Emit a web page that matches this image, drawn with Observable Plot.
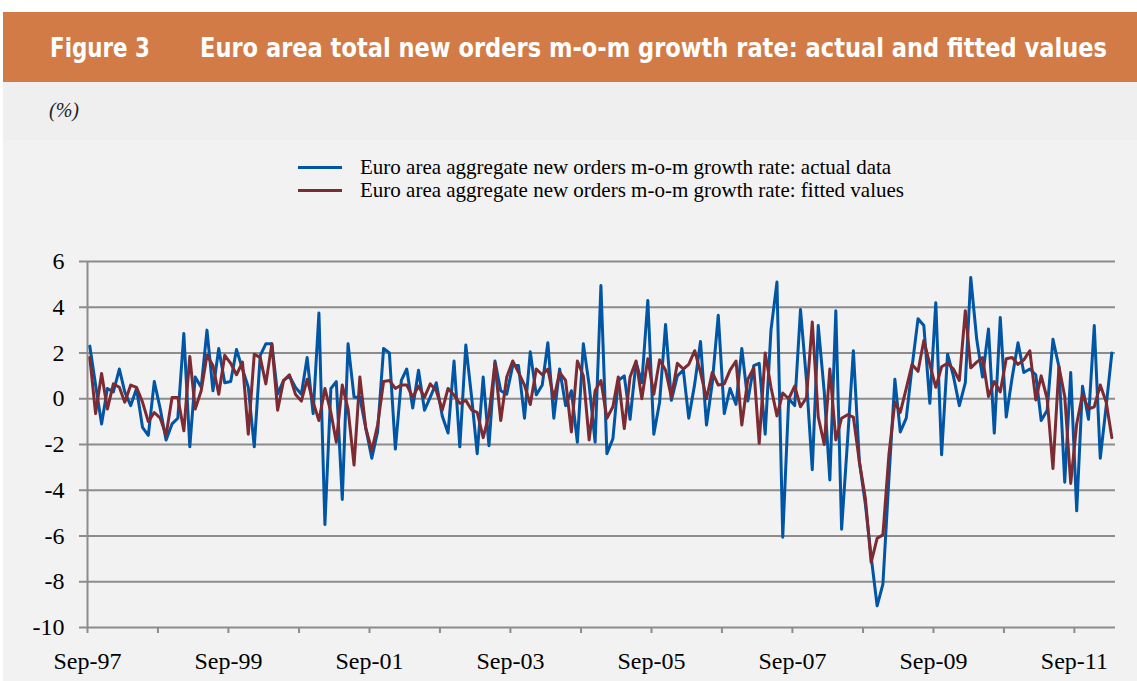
<!DOCTYPE html>
<html>
<head>
<meta charset="utf-8">
<script src="https://cdn.jsdelivr.net/npm/d3@7"></script>
<script src="https://cdn.jsdelivr.net/npm/@observablehq/plot@0.6"></script>
<style>
  html, body { margin: 0; padding: 0; background: #ffffff; }
  #page { position: relative; width: 1137px; height: 681px; overflow: hidden; background: #ffffff; }
  #header { position: absolute; left: 3px; top: 12px; width: 1134px; height: 70px; background: #D27B46; }
  #panelTop { position: absolute; left: 3px; top: 82px; width: 1134px; height: 58px; background: #EFEFEF; }
  #panel { position: absolute; left: 3px; top: 140px; width: 1134px; height: 541px; background: #F2F2F2; }
  #unit { position: absolute; left: 49px; top: 99px; font-family: 'Liberation Serif', 'Times New Roman', serif; font-style: italic; font-size: 20px; color: #222; }
  #legend { position: absolute; left: 298px; top: 156px; font-family: 'Liberation Serif', 'Times New Roman', serif; font-size: 21px; color: #000; }
  .row { display: flex; align-items: center; height: 23px; }
  .sw { width: 44px; height: 3px; margin-right: 18px; }
  #chart { position: absolute; left: 0; top: 240px; }
</style>
</head>
<body>
<div id="page">
  <div id="header">
    <svg width="1134" height="70" style="display:block">
      <g font-family="'DejaVu Sans', 'Open Sans', sans-serif" font-weight="bold" font-size="20" fill="#ffffff">
        <text transform="translate(47,45) scale(1,1.3)" textLength="100" lengthAdjust="spacingAndGlyphs">Figure 3</text>
        <text transform="translate(197,45) scale(1,1.3)" textLength="907" lengthAdjust="spacingAndGlyphs">Euro area total new orders m-o-m growth rate: actual and fitted values</text>
      </g>
    </svg>
  </div>
  <div id="panelTop"></div>
  <div id="panel"></div>
  <div id="unit">(%)</div>
  <div id="legend"></div>
  <div id="chart"></div>
</div>
<script>
// ---- data (monthly, Sep-97 onwards) ----
const seriesNames = [
  "Euro area aggregate new orders m-o-m growth rate: actual data",
  "Euro area aggregate new orders m-o-m growth rate: fitted values"
];
const seriesColors = ["#0055A4", "#7D2B33"];
const startYear = 1997, startMonth = 8; // September 1997

const actual = [
  2.3, 0.6, -1.1, 0.45, 0.3, 1.3, 0.3, -0.3, 0.45, -1.25,
  -1.6, 0.75, -0.45, -1.8, -1.1, -0.85, 2.85, -2.1, 0.95, 0.5,
  3.0, 0.35, 2.2, 0.7, 0.75, 2.15, 1.3, 0.5, -2.1, 1.9,
  2.4, 2.4, 0.2, 0.8, 1.0, 0.5, 0.2, 1.8, -0.65, 3.75,
  -5.5, 0.45, 0.75, -4.4, 2.4, 0.07, 0.07, -1.3, -2.6, -1.45,
  2.2, 2.0, -2.2, 0.8, 1.3, -0.4, 1.25, -0.5, 0.07, 0.7,
  -0.75, -1.5, 1.65, -2.1, 2.35, 0.0, -2.4, 0.95, -2.05, 1.65,
  0.35, 0.2, 1.45, 1.45, -0.85, 2.05, 0.17, 0.6, 2.45, -0.85,
  1.3, -0.3, 0.35, -1.9, 2.4, 0.6, -1.9, 4.95, -2.4, -1.75,
  0.8, 1.0, -0.9, 1.6, 0.7, 4.3, -1.55, -0.15, 3.25, -0.07,
  1.0, 1.25, -0.85, 0.65, 2.5, -1.15, 0.7, 3.65, -0.65, 0.45,
  -0.25, 2.2, -0.1, 1.45, 1.55, -1.55, 3.0, 5.1, -6.05, 0.0,
  -0.3, 3.9, 0.8, -3.1, 3.2, 0.3, -3.55, 3.85, -5.7, -1.8,
  2.1, -2.75, -4.6, -6.9, -9.05, -8.1, -3.5, 0.85, -1.45, -0.85,
  1.4, 3.5, 3.2, -0.2, 4.2, -2.45, 1.95, 1.0, -0.3, 0.7,
  5.3, 2.6, 0.95, 3.05, -1.5, 3.55, -0.8, 0.9, 2.45, 1.15,
  1.3, 1.05, -0.95, -0.5, 2.6, 1.4, -3.65, 1.15, -4.9, 0.55,
  -0.9, 3.2, -2.6, -0.3, 2.0
];
const fitted = [
  1.8, -0.65, 1.1, -0.45, 0.65, 0.5, -0.15, 0.6, 0.5, -0.15,
  -1.0, -0.6, -0.85, -1.6, 0.05, 0.05, -1.4, 1.85, -0.45, 0.35,
  1.9, 1.45, 0.2, 1.9, 1.55, 1.05, 1.6, -1.55, 1.95, 1.8,
  0.65, 2.4, -0.5, 0.8, 1.05, 0.2, -0.1, 0.85, -0.15, -0.95,
  0.45, -0.6, -1.9, 0.6, -0.45, -2.9, 0.95, -1.3, -2.25, -1.15,
  0.75, 0.8, 0.45, 0.6, 0.6, 0.07, 0.55, 0.07, 0.65, 0.35,
  -0.5, 0.45, 0.15, -0.2, -0.07, -0.5, -0.6, -1.7, -0.7, 1.55,
  -0.95, 0.95, 1.65, 1.15, 0.6, -0.25, 1.3, 1.05, 1.3, 0.0,
  1.15, 0.8, -1.45, 1.65, 1.0, -1.8, 0.35, 0.8, -0.85, -0.35,
  0.95, -1.3, 0.95, 1.65, 0.0, 1.75, 0.2, 1.7, 1.25, 0.07,
  1.55, 1.3, 1.5, 2.1, 1.15, 0.0, 1.15, 0.6, 0.65, 1.25,
  1.65, -1.15, 0.85, 1.35, -1.95, 2.0, 0.5, -0.75, 0.25, 0.0,
  0.55, -0.35, 0.05, 3.35, -0.8, -2.0, 1.3, -1.8, -0.85, -0.7,
  -0.8, -2.75, -4.35, -7.15, -6.1, -5.95, -2.45, -0.15, -0.6, 0.45,
  1.5, 1.2, 2.55, 1.5, 0.5, 1.4, 1.55, 1.3, 0.8, 3.85,
  1.35, 1.6, 1.8, 0.1, 0.75, 0.3, 1.75, 1.8, 1.5, 1.7,
  2.1, -0.05, 1.0, 0.0, -3.05, 1.4, 0.1, -3.7, -1.1, 0.2,
  -0.45, -0.35, 0.6, -0.15, -1.7
];

const yTicks = [-10, -8, -6, -4, -2, 0, 2, 4, 6];
const tickYears = [1997, 1998, 1999, 2000, 2001, 2002, 2003, 2004, 2005, 2006, 2007, 2008, 2009, 2010, 2011];
const tickLabels = ["Sep-97", "Sep-99", "Sep-01", "Sep-03", "Sep-05", "Sep-07", "Sep-09", "Sep-11"];

// ---- build table ----
const data = actual.map((v, i) => ({
  date: new Date(Date.UTC(startYear, startMonth + i, 13)),
  actual: v,
  fitted: fitted[i]
}));
const yearTickDates = tickYears.map(y => new Date(Date.UTC(y, startMonth, 1)));
const parseLabel = d3.utcParse("%b-%y");
const labelDates = tickLabels.map(parseLabel);
const labelByTime = new Map(labelDates.map((d, i) => [+d, tickLabels[i]]));

const gridColor = "#8C8C8C";
const serif = "'Liberation Serif', 'Times New Roman', serif";

const chart = Plot.plot({
  width: 1137,
  height: 441,
  marginLeft: 87,
  marginRight: 22,
  marginTop: 21,
  marginBottom: 54,
  style: { background: "transparent", fontFamily: serif, fontSize: "24px", color: "#000" },
  x: { type: "utc", domain: [new Date(Date.UTC(1997, 8, 1)), new Date(Date.UTC(2012, 3, 1))] },
  y: { domain: [-10, 6] },
  marks: [
    Plot.ruleY(yTicks, { stroke: gridColor, strokeWidth: 2 }),
    Plot.ruleX([new Date(Date.UTC(1997, 8, 1))], { stroke: gridColor, strokeWidth: 2 }),
    Plot.axisY({ ticks: yTicks, tickSize: 8, tickPadding: 15, stroke: gridColor, strokeWidth: 2,
                 tickFormat: d => String(d), label: null, fontSize: 24 }),
    Plot.axisX({ ticks: yearTickDates, tickSize: 6, stroke: gridColor, strokeWidth: 2,
                 tickFormat: () => "", label: null }),
    Plot.axisX({ ticks: labelDates, tickSize: 0, tickPadding: 24,
                 tickFormat: d => labelByTime.get(+d), label: null, fontSize: 24 }),
    Plot.line(data, { x: "date", y: "actual", stroke: seriesColors[0], strokeWidth: 3, strokeLinejoin: "round" }),
    Plot.line(data, { x: "date", y: "fitted", stroke: seriesColors[1], strokeWidth: 3, strokeLinejoin: "round" })
  ]
});
document.getElementById("chart").appendChild(chart);

// legend
const legend = document.getElementById("legend");
seriesNames.forEach((name, i) => {
  const row = document.createElement("div");
  row.className = "row";
  const sw = document.createElement("div");
  sw.className = "sw";
  sw.style.background = seriesColors[i];
  const t = document.createElement("span");
  t.textContent = name;
  row.appendChild(sw);
  row.appendChild(t);
  legend.appendChild(row);
});
</script>
</body>
</html>
